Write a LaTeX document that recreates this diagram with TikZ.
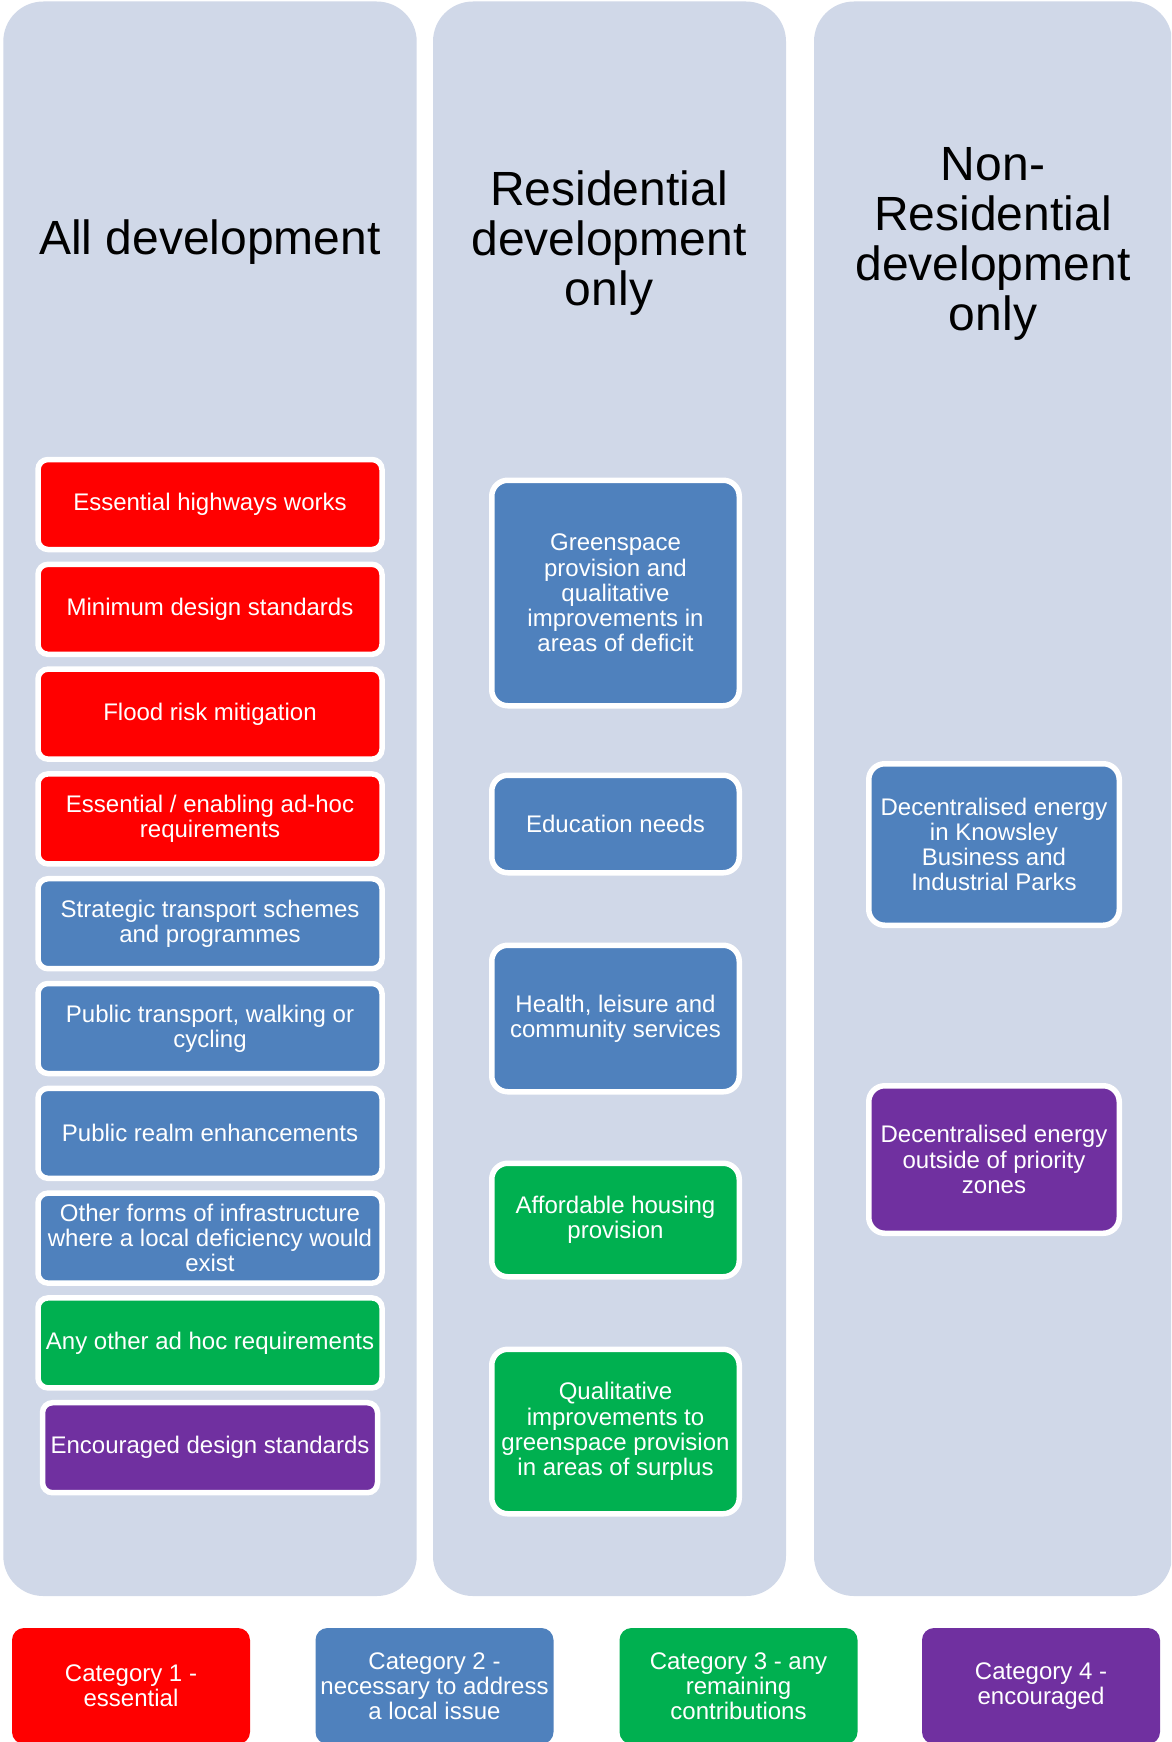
\documentclass[tikz,border=0pt]{standalone}
\usepackage{fontspec}
\setmainfont{Liberation Sans}
\definecolor{colbg}{HTML}{D0D8E8}
\definecolor{cred}{HTML}{FF0000}
\definecolor{cblue}{HTML}{4F81BD}
\definecolor{cgreen}{HTML}{00B050}
\definecolor{cpurple}{HTML}{7030A0}
\begin{document}
\begin{tikzpicture}[x=1pt,y=-1pt,
  colpanel/.style={fill=colbg, rounded corners=40pt},
  heading/.style={align=center, text=black, inner sep=0pt, font=\fontsize{48}{50}\selectfont},
  item/.style={rectangle, draw=white, line width=5.5pt, text=white, align=center,
    inner sep=0pt, font=\fontsize{24}{25.2}\selectfont},
  itemA/.style={item, rounded corners=10pt, minimum width=344pt, minimum height=90pt},
  itemB/.style={item, rounded corners=16pt, minimum width=247.5pt},
  itemC/.style={item, rounded corners=16pt, minimum width=250.5pt},
  legend/.style={rectangle, rounded corners=12pt, text=white, align=center, inner sep=0pt,
    minimum width=238pt, minimum height=116pt, font=\fontsize{24}{25.2}\selectfont},
  red/.style={fill=cred}, blue/.style={fill=cblue}, green/.style={fill=cgreen}, purple/.style={fill=cpurple}
]
\useasboundingbox (0,0) rectangle (1171,1742);
\clip (0,0) rectangle (1171,1742);
\fill[white] (0,0) rectangle (1171,1742);

% column panels
\fill[colpanel] (3.3,1.5) rectangle (416.7,1596);
\fill[colpanel] (433,1.5) rectangle (786,1596);
\fill[colpanel] (814,1.5) rectangle (1172,1596);

% headings
\node[heading] (h1) at (210,242) {All development};
\node[heading] (h2) at (609,243) {Residential\\development\\only};
\node[heading] (h3) at (993,243.5) {Non-\\Residential\\development\\only};

% column 1
\node[itemA, red]   (a1)  at (210,504.5)  {Essential highways works};
\node[itemA, red]   (a2)  at (210,609.3)  {Minimum design standards};
\node[itemA, red]   (a3)  at (210,714.1)  {Flood risk mitigation};
\node[itemA, red]   (a4)  at (210,818.9)  {Essential / enabling ad-hoc\\requirements};
\node[itemA, blue]  (a5)  at (210,923.7)  {Strategic transport schemes\\and programmes};
\node[itemA, blue]  (a6)  at (210,1028.5) {Public transport, walking or\\cycling};
\node[itemA, blue]  (a7)  at (210,1133.3) {Public realm enhancements};
\node[itemA, blue]  (a8)  at (210,1238.1) {Other forms of infrastructure\\where a local deficiency would\\exist};
\node[itemA, green] (a9)  at (210,1342.9) {Any other ad hoc requirements};
\node[itemA, purple, minimum width=335pt] (a10) at (210,1447.7) {Encouraged design standards};

% column 2
\node[itemB, blue,  minimum height=225.5pt] (b1) at (615.5,593)    {Greenspace\\provision and\\qualitative\\improvements in\\areas of deficit};
\node[itemB, blue,  minimum height=97.5pt]  (b2) at (615.5,824)    {Education needs};
\node[itemB, blue,  minimum height=146.5pt] (b3) at (615.5,1018.5) {Health, leisure and\\community services};
\node[itemB, green, minimum height=113.5pt] (b4) at (615.5,1220)   {Affordable housing\\provision};
\node[itemB, green, minimum height=164.5pt] (b5) at (615.5,1431.5) {Qualitative\\improvements to\\greenspace provision\\in areas of surplus};

% column 3
\node[itemC, blue,   minimum height=161.5pt] (c1) at (994,844.5)  {Decentralised energy\\in Knowsley\\Business and\\Industrial Parks};
\node[itemC, purple, minimum height=147.5pt] (c2) at (994,1159.5) {Decentralised energy\\outside of priority\\zones};

% legend
\node[legend, red]    (l1) at (131,1686)   {Category 1 -\\essential};
\node[legend, blue]   (l2) at (434.5,1686) {Category 2 -\\necessary to address\\a local issue};
\node[legend, green]  (l3) at (738.5,1686) {Category 3 - any\\remaining\\contributions};
\node[legend, purple] (l4) at (1041,1686)  {Category 4 -\\encouraged};
\end{tikzpicture}
\end{document}
